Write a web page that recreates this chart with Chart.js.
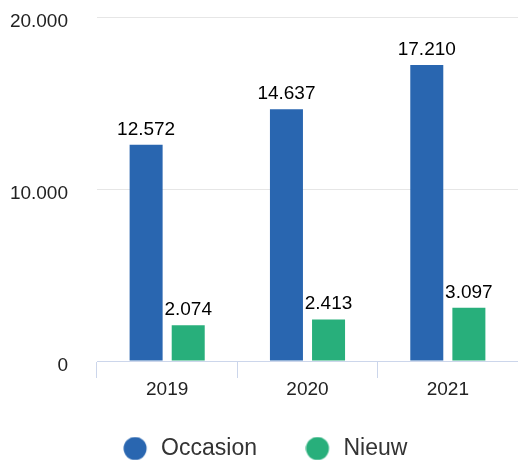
<!DOCTYPE html>
<html>
<head>
<meta charset="utf-8">
<script src="https://cdn.jsdelivr.net/npm/chart.js@4/dist/chart.umd.min.js"></script>
<style>
  html, body { margin: 0; padding: 0; background: #fff; }
  #wrap { width: 518px; height: 460px; }
</style>
</head>
<body>
<div id="wrap"><canvas id="chart"></canvas></div>
<script>
const years = ['2019', '2020', '2021'];
const occasion = [12572, 14637, 17210];
const nieuw = [2074, 2413, 3097];
const yTicks = [0, 10000, 20000];

const FONT = '"Liberation Sans", Arial, sans-serif';

function fmt(v){
    return String(v).replace(/\B(?=(\d{3})+(?!\d))/g, '.');
}

// circle for the legend, drawn a bit left of the box centre
function dot(color){
    var c = document.createElement('canvas');
    c.width = 30; c.height = 24;
    var g = c.getContext('2d');
    g.fillStyle = color;
    g.beginPath();
    g.arc(12, 12, 11.5, 0, Math.PI * 2);
    g.fill();
    return c;
}

var valueLabels = {
    id: 'valueLabels',
    beforeLayout: function(chart){
        // big horizontal gap between legend items, but keep the box short
        var lg = chart.legend;
        if(lg && !lg._short){
            var fit = lg.fit;
            lg.fit = function(){ fit.call(this); this.height = 71; };
            lg._short = true;
        }
    },
    afterLayout: function(chart){
        var lg = chart.legend;
        if(lg){
            lg.left += 8; lg.right += 8;
            lg.top -= 4; lg.bottom += 4;
        }
    },
    afterDatasetsDraw: function(chart){
        var ctx = chart.ctx;
        ctx.save();
        ctx.font = '19px ' + FONT;
        ctx.fillStyle = '#000';
        ctx.textAlign = 'center';
        ctx.textBaseline = 'alphabetic';
        chart.data.datasets.forEach(function(ds, i){
            chart.getDatasetMeta(i).data.forEach(function(el, j){
                ctx.fillText(fmt(ds.data[j]), el.x, el.y - 10);
            });
        });
        ctx.restore();
    }
};

var colors = ['#2966b0', '#28af7b'];

new Chart(document.getElementById('chart').getContext('2d'), {
    type: 'bar',
    data: {
        labels: years,
        datasets: [
            { label: 'Occasion', data: occasion, backgroundColor: colors[0] },
            { label: 'Nieuw', data: nieuw, backgroundColor: colors[1] }
        ]
    },
    options: {
        responsive: true,
        maintainAspectRatio: false,
        animation: false,
        layout: { padding: { top: 17, right: 0, bottom: 0, left: 0 } },
        datasets: {
            bar: { categoryPercentage: 0.6, barPercentage: 0.784 }
        },
        scales: {
            x: {
                afterFit: function(scale){
                    scale.height = 28;
                    // let the year labels run below the short axis box
                    scale._computeLabelArea = function(){ return undefined; };
                },
                grid: {
                    offset: true,
                    drawOnChartArea: false,
                    color: '#ccd6eb',
                    tickLength: 17
                },
                border: { color: '#ccd6eb' },
                ticks: { color: '#222', font: { size: 19, family: FONT }, padding: 0 }
            },
            y: {
                min: 0,
                max: 20000,
                afterFit: function(scale){
                    scale.width = 97;
                    scale.paddingTop = 0;
                    scale.paddingBottom = 0;
                },
                afterBuildTicks: function(scale){
                    scale.ticks = yTicks.map(function(v){ return { value: v }; });
                },
                grid: { color: '#e6e6e6', drawTicks: false },
                border: { display: false },
                ticks: {
                    color: '#222',
                    font: { size: 19, family: FONT },
                    padding: 29,
                    labelOffset: 5,
                    callback: function(v){ return fmt(v); }
                }
            }
        },
        plugins: {
            tooltip: { enabled: false },
            legend: {
                position: 'bottom',
                labels: {
                    usePointStyle: true,
                    boxWidth: 23,
                    boxHeight: 16,
                    padding: 52,
                    color: '#333',
                    font: { size: 23, family: FONT },
                    generateLabels: function(chart){
                        var items = Chart.defaults.plugins.legend.labels.generateLabels(chart);
                        items.forEach(function(it, i){ it.pointStyle = dot(colors[i]); });
                        return items;
                    }
                }
            }
        }
    },
    plugins: [valueLabels]
});
</script>
</body>
</html>
